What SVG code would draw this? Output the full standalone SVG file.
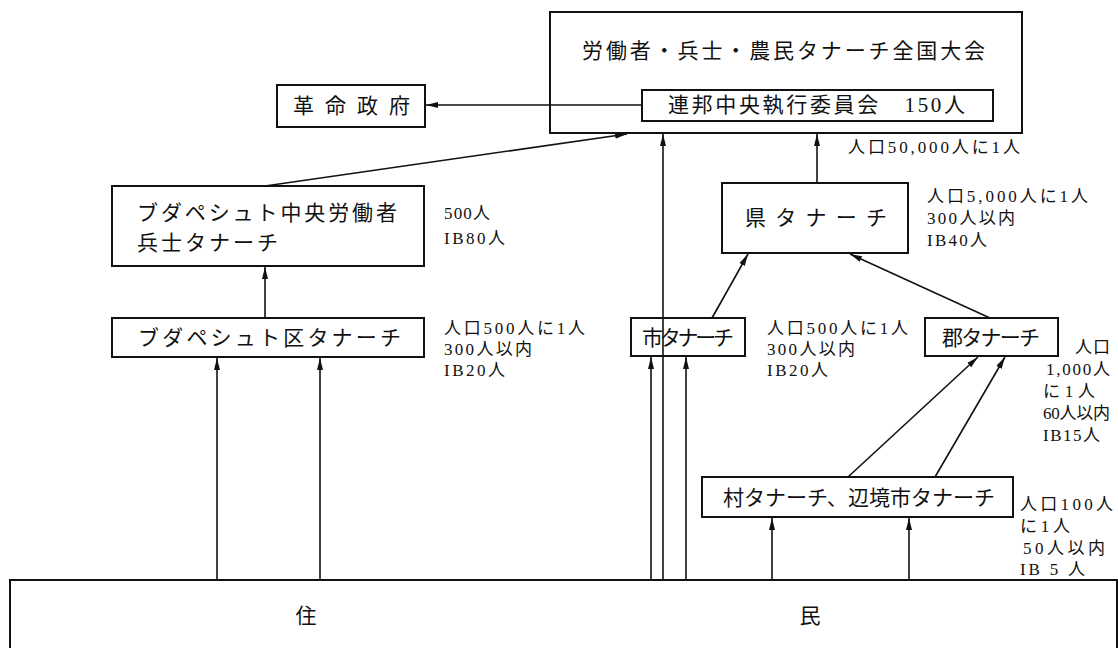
<svg xmlns="http://www.w3.org/2000/svg" width="1118" height="648" viewBox="0 0 1118 648">
<defs>
<marker id="ah" markerUnits="userSpaceOnUse" markerWidth="13" markerHeight="8" refX="12" refY="4" orient="auto">
<path d="M0,1 L12,4 L0,7 Z" fill="#111"/>
</marker>
<style>
.box{fill:#fff;stroke:#111;stroke-width:2}
.t{font-family:"Liberation Serif","Noto Sans CJK JP",serif;font-size:21px;fill:#111}
.s{font-family:"Liberation Serif","Noto Sans CJK JP",serif;font-size:17px;fill:#111}
.c{stroke:#111;stroke-width:1.6;fill:none}
.a{marker-end:url(#ah)}
</style>
</defs>
<rect width="1118" height="648" fill="#fff"/>

<g id="residents">
<rect class="box" x="10" y="580" width="1107" height="90"/>
<text class="t" x="306" y="623" text-anchor="middle">住</text>
<text class="t" x="810" y="623" text-anchor="middle">民</text>
</g>

<g id="national-congress">
<rect class="box" x="550" y="12" width="472" height="121"/>
<text class="t" x="582" y="58" textLength="403" lengthAdjust="spacing">労働者・兵士・農民タナーチ全国大会</text>
</g>

<g id="central-executive">
<rect class="box" x="642" y="90" width="351" height="31"/>
<text class="t" x="668" y="112" textLength="297" lengthAdjust="spacing">連邦中央執行委員会　150人</text>
<text class="s" x="848" y="153" textLength="172" lengthAdjust="spacing">人口50,000人に1人</text>
</g>

<g id="revolutionary-government">
<rect class="box" x="277" y="85" width="148" height="42"/>
<text class="t" x="293" y="113" textLength="117" lengthAdjust="spacing">革命政府</text>
</g>

<g id="budapest-central">
<rect class="box" x="112" y="186" width="312" height="80"/>
<text class="t" x="137" y="220" textLength="260" lengthAdjust="spacing">ブダペシュト中央労働者</text>
<text class="t" x="137" y="250" textLength="141" lengthAdjust="spacing">兵士タナーチ</text>
<text class="s" x="444" y="219" textLength="46" lengthAdjust="spacing">500人</text>
<text class="s" x="444" y="244" textLength="61" lengthAdjust="spacing">IB80人</text>
</g>

<g id="budapest-district">
<rect class="box" x="112" y="318" width="312" height="39"/>
<text class="t" x="138" y="345" textLength="263" lengthAdjust="spacing">ブダペシュト区タナーチ</text>
<text class="s" x="444" y="334" textLength="141" lengthAdjust="spacing">人口500人に1人</text>
<text class="s" x="444" y="355" textLength="88" lengthAdjust="spacing">300人以内</text>
<text class="s" x="444" y="376" textLength="61" lengthAdjust="spacing">IB20人</text>
</g>

<g id="county">
<rect class="box" x="722" y="183" width="186" height="70"/>
<text class="t" x="745" y="225" textLength="142" lengthAdjust="spacing">県タナーチ</text>
<text class="s" x="927" y="202" textLength="161" lengthAdjust="spacing">人口5,000人に1人</text>
<text class="s" x="927" y="224" textLength="88" lengthAdjust="spacing">300人以内</text>
<text class="s" x="927" y="246" textLength="60" lengthAdjust="spacing">IB40人</text>
</g>

<g id="city">
<rect class="box" x="631" y="318" width="114" height="38"/>
<text class="t" x="642" y="345" textLength="92" lengthAdjust="spacing">市タナーチ</text>
<text class="s" x="767" y="334" textLength="141" lengthAdjust="spacing">人口500人に1人</text>
<text class="s" x="767" y="355" textLength="88" lengthAdjust="spacing">300人以内</text>
<text class="s" x="767" y="376" textLength="61" lengthAdjust="spacing">IB20人</text>
</g>

<g id="district">
<rect class="box" x="925" y="318" width="133" height="38"/>
<text class="t" x="942" y="345" textLength="98" lengthAdjust="spacing">郡タナーチ</text>
<text class="s" x="1075" y="353" textLength="35" lengthAdjust="spacing">人口</text>
<text class="s" x="1046" y="375" textLength="64" lengthAdjust="spacing">1,000人</text>
<text class="s" x="1043" y="397" textLength="52" lengthAdjust="spacing">に 1 人</text>
<text class="s" x="1043" y="419" textLength="67" lengthAdjust="spacing">60人以内</text>
<text class="s" x="1043" y="441" textLength="57" lengthAdjust="spacing">IB15人</text>
</g>

<g id="village">
<rect class="box" x="702" y="477" width="311" height="40"/>
<text class="t" x="723" y="505" textLength="272" lengthAdjust="spacing">村タナーチ、辺境市タナーチ</text>
<text class="s" x="1020" y="510" textLength="93" lengthAdjust="spacing">人口100人</text>
<text class="s" x="1020" y="532" textLength="50" lengthAdjust="spacing">に1人</text>
<text class="s" x="1023" y="554" textLength="82" lengthAdjust="spacing">50人以内</text>
<text class="s" x="1020" y="575" textLength="65" lengthAdjust="spacing">IB 5 人</text>
</g>

<g id="connectors">
<line class="c a" x1="642" y1="105" x2="426" y2="105"/>
<line class="c a" x1="265" y1="186" x2="627" y2="134"/>
<line class="c a" x1="663" y1="580" x2="663" y2="134"/>
<line class="c a" x1="817" y1="183" x2="817" y2="134"/>
<line class="c a" x1="265" y1="318" x2="265" y2="267"/>
<line class="c a" x1="217" y1="580" x2="217" y2="358"/>
<line class="c a" x1="320" y1="580" x2="320" y2="358"/>
<line class="c a" x1="651" y1="580" x2="651" y2="357"/>
<line class="c a" x1="686" y1="580" x2="686" y2="357"/>
<line class="c a" x1="712" y1="318" x2="748" y2="254"/>
<line class="c a" x1="990" y1="318" x2="850" y2="254"/>
<line class="c a" x1="848" y1="477" x2="978" y2="357"/>
<line class="c a" x1="935" y1="477" x2="1005" y2="357"/>
<line class="c a" x1="772" y1="580" x2="772" y2="518"/>
<line class="c a" x1="909" y1="580" x2="909" y2="518"/>
</g>
</svg>
